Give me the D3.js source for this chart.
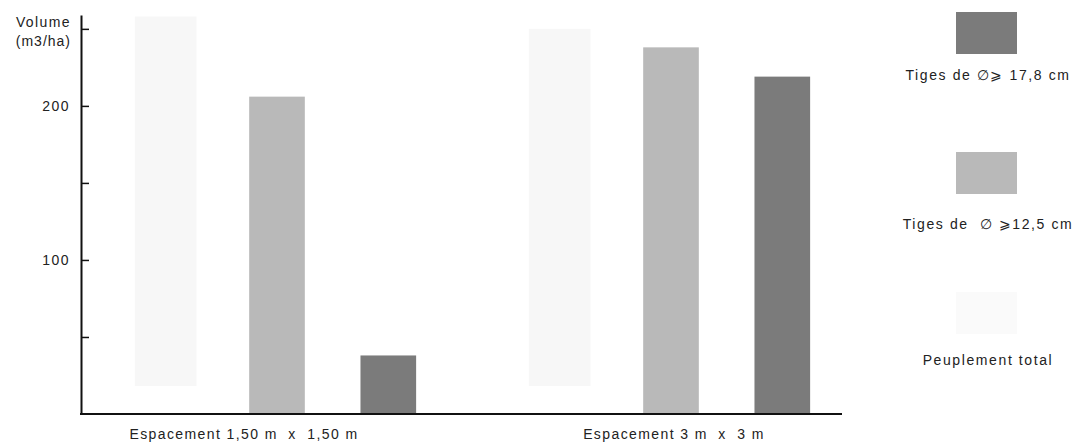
<!DOCTYPE html>
<html>
<head>
<meta charset="utf-8">
<script src="https://cdn.jsdelivr.net/npm/d3@7"></script>
<style>
  body { margin: 0; background: #fff; }
  svg { display: block; }
  text { font-family: "Liberation Sans", Arial, sans-serif; fill: #222; }
</style>
</head>
<body>
<svg id="chart" width="1088" height="442"></svg>
<script>
// ---- data ----
const categories = ["Espacement 1,50 m x 1,50 m", "Espacement 3 m x 3 m"];
const series = ["Peuplement total", "Tiges de \u2205 \u2265 12,5 cm", "Tiges de \u2205 \u2265 17,8 cm"];
const totalValues = [258, 250];
const d125Values = [206, 238];
const d178Values = [38, 219];
const tickValues = [50, 100, 150, 200, 250];
const tickLabels = {100: "100", 200: "200"};
const legendLabels = ["Tiges de \u2205\u2A7E 17,8 cm", "Tiges de  \u2205 \u2A7E12,5 cm", "Peuplement total"];

const seriesValues = [totalValues, d125Values, d178Values];
const colors = ["#f7f7f7", "#b9b9b9", "#7b7b7b"];

const svg = d3.select("#chart");

const y = d3.scaleLinear().domain([0, 259]).range([414, 15]);
const x0 = d3.scaleBand().domain(categories).range([80, 868]).padding(0);
const x1 = d3.scaleBand().domain(series).range([0, x0.bandwidth()])
  .paddingInner(0.5).paddingOuter(0.52);

// bars
const groups = svg.selectAll("g.grp").data(categories).enter().append("g")
  .attr("transform", d => `translate(${x0(d)},0)`);
groups.selectAll("rect").data((c, ci) => series.map((s, si) => ({s, si, v: seriesValues[si][ci]})))
  .enter().append("rect")
  .attr("x", d => x1(d.s) + (d.si === 0 ? -3 : 0))
  .attr("width", d => x1.bandwidth() + (d.si === 0 ? 6 : 0))
  .attr("y", d => y(d.v))
  .attr("height", d => y(0) - y(d.v) - (d.si === 0 ? 28 : 0))
  .attr("fill", d => colors[d.si]);

// y axis
const yAxis = d3.axisLeft(y).tickValues(tickValues)
  .tickSizeInner(-8).tickSizeOuter(0).tickPadding(11)
  .tickFormat(d => tickLabels[d] || "");
const ya = svg.append("g").attr("transform", "translate(81,0)").call(yAxis);
ya.select(".domain").attr("stroke", "#111").attr("stroke-width", 2);
ya.selectAll(".tick line").attr("stroke", "#111").attr("stroke-width", 1.5);
ya.selectAll(".tick text").attr("font-size", 14).attr("fill", "#222")
  .attr("font-family", "Liberation Sans, Arial, sans-serif").attr("letter-spacing", 1.5);

// x axis line
svg.append("line").attr("x1", 80).attr("x2", 842).attr("y1", y(0)).attr("y2", y(0))
  .attr("stroke", "#111").attr("stroke-width", 2);

// x labels
const xLabelCenters = [244, 674];
svg.selectAll("text.xl").data(categories).enter().append("text")
  .attr("class", "xl")
  .attr("x", (d, i) => xLabelCenters[i])
  .attr("y", 439)
  .attr("text-anchor", "middle")
  .attr("font-size", 14).attr("letter-spacing", 1.4)
  .attr("xml:space", "preserve")
  .style("white-space", "pre")
  .text((d, i) => i === 0 ? "Espacement 1,50 m  x  1,50 m" : "Espacement 3 m  x  3 m");

// y title
svg.append("text").attr("x", 71).attr("y", 27).attr("text-anchor", "end")
  .attr("font-size", 14).attr("letter-spacing", 1.4).text("Volume");
svg.append("text").attr("x", 71).attr("y", 46).attr("text-anchor", "end")
  .attr("font-size", 14).attr("letter-spacing", 1.0).text("(m3/ha)");

// legend
const legColors = [colors[2], colors[1], "#fafafa"];
const legY = [12, 152, 292];
const legTextY = [80, 229, 365];
legendLabels.forEach((lab, i) => {
  svg.append("rect").attr("x", 956).attr("y", legY[i]).attr("width", 61).attr("height", 42)
    .attr("fill", legColors[i]);
  svg.append("text").attr("x", 988).attr("y", legTextY[i]).attr("text-anchor", "middle")
    .attr("font-size", 14).attr("letter-spacing", 1.6)
    .style("white-space", "pre").text(lab);
});
</script>
</body>
</html>
